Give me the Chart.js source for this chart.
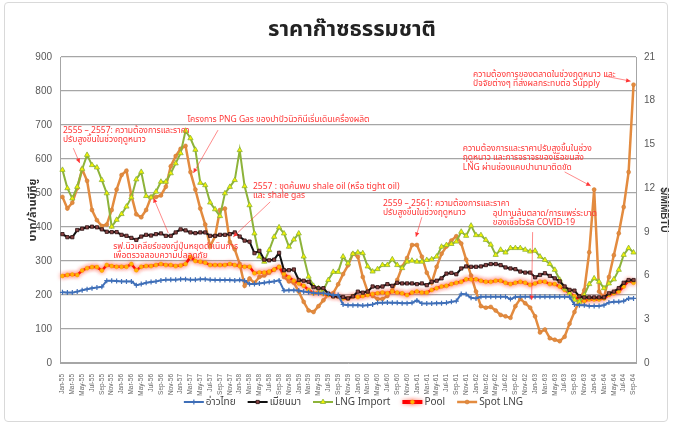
<!DOCTYPE html>
<html>
<head>
<meta charset="utf-8">
<script src="https://cdn.jsdelivr.net/npm/chart.js@4/dist/chart.umd.min.js"></script>
<style>
  html, body { margin: 0; padding: 0; background: #fff; }
  #wrap { position: relative; width: 674px; height: 428px; }
  #frame { position: absolute; left: 4px; top: 2px; width: 662px; height: 418px; border: 1px solid #d9d9d9; border-radius: 4px; }
</style>
</head>
<body>
<div id="wrap">
  <div id="frame"></div>
  <canvas id="gasChart"></canvas>
</div>
<script>
const monthNames = ['Jan','Feb','Mar','Apr','May','Jun','Jul','Aug','Sep','Oct','Nov','Dec'];
const yearLabels = ['55','56','57','58','59','60','61','62','63','64'];
const lastMonthCount = 9; // data ends Sep-64

const labels = [];
yearLabels.forEach((yy, yi) => {
  const n = yi === yearLabels.length - 1 ? lastMonthCount : 12;
  for (let m = 0; m < n; m++) labels.push(monthNames[m] + '-' + yy);
});

const leftTicks = [0, 100, 200, 300, 400, 500, 600, 700, 800, 900];
const rightTicks = [0, 3, 6, 9, 12, 15, 18, 21];

// บาท/ล้านบีทียู
const gulfThai = [208,207,207,210,214,217,220,222,224,242,242,241,240,240,240,229,232,236,238,240,243,245,245,245,246,246,245,245,246,246,
  245,244,244,244,244,243,244,242,232,232,234,236,238,240,243,213,214,214,213,210,208,206,205,205,203,200,200,172,170,
  170,170,169,170,172,177,177,178,177,177,176,176,177,184,175,175,175,176,176,177,180,182,203,202,192,190,195,195,195,
  195,195,195,188,194,195,195,195,195,195,195,195,195,195,195,194,172,170,170,168,168,168,170,178,180,180,182,190,190];

const myanmar = [379,370,370,391,395,399,401,399,393,386,385,385,377,374,368,362,372,377,375,379,381,374,374,384,393,390,384,382,384,384,
  374,374,377,377,379,384,372,360,357,323,330,304,302,304,324,273,273,275,244,242,239,223,220,220,204,196,196,194,190,
  196,210,207,210,225,223,225,232,227,236,234,234,234,232,234,229,239,242,249,263,265,261,278,284,283,283,284,288,291,
  291,288,281,278,276,269,266,266,252,259,264,256,249,240,225,215,213,196,193,193,193,193,193,205,210,220,236,244,244];

const lngImport = [568,514,484,518,570,612,582,575,538,499,401,421,438,460,487,540,562,491,487,504,533,533,558,587,617,683,661,627,530,523,
  472,452,432,499,518,538,626,520,464,381,313,298,332,371,399,381,342,363,381,313,254,227,220,215,244,268,268,313,293,
  321,325,323,284,269,276,288,288,305,288,279,298,301,298,298,303,305,313,342,347,350,357,386,374,404,376,376,362,348,
  318,333,325,338,338,338,333,328,330,313,303,291,274,245,220,205,186,180,200,232,249,239,220,234,246,274,318,338,325];

const pool = [256,259,260,259,272,279,282,282,272,288,285,283,283,283,291,273,283,285,285,288,291,288,288,285,287,291,312,300,298,295,
  288,288,288,288,291,288,285,283,283,264,266,266,269,275,282,262,252,242,234,227,215,205,207,203,200,196,196,190,190,
  196,194,197,200,203,205,207,205,210,207,205,200,207,210,207,207,215,220,225,227,232,236,239,246,246,246,242,239,239,
  242,242,236,232,236,239,236,230,234,239,239,232,232,225,215,206,196,184,182,187,187,187,190,200,205,210,225,242,236];

// $/MMBTU (แกนขวา)
const spotLng = [11.4,10.6,11.0,12.0,13.3,12.5,10.5,9.8,9.4,9.5,10.5,11.9,12.9,13.2,11.5,10.2,10.0,10.5,11.4,11.4,11.5,12.1,13.5,14.2,14.7,14.9,13.1,11.9,10.6,9.5,
  8.0,8.7,10.5,10.6,8.3,7.8,6.8,5.3,5.8,5.5,5.9,6.0,6.2,6.4,6.6,5.9,5.6,5.5,4.9,4.2,3.6,3.5,3.9,4.3,4.7,4.8,5.4,6.1,6.7,
  7.5,7.3,5.9,4.9,4.6,4.4,4.4,4.6,5.0,5.7,6.6,7.2,8.1,8.1,7.3,6.2,5.5,6.6,7.5,8.0,8.4,8.7,8.2,7.1,6.0,4.9,3.9,3.8,3.85,
  3.6,3.3,3.2,3.1,3.9,4.4,4.1,3.8,3.2,2.1,2.3,1.7,1.6,1.5,1.8,2.7,3.5,4.3,5.0,7.6,11.9,4.9,4.5,5.9,7.4,8.9,10.7,13.1,19.1];

const thaiFont = '"Noto Sans Thai", "Noto Sans Thai UI", Tahoma, "Leelawadee UI", "Noto Sans", "DejaVu Sans", sans-serif';
const noteRed = '#ff3535';

// annotation: text anchor (category index, left-axis value), arrow from/to in same space
const notes = [
  { lines: ['2555 – 2557: ความต้องการและราคา', 'ปรับสูงขึ้นในช่วงฤดูหนาว'], at: [0.1, 682], from: [2.2, 632], to: [3.5, 588] },
  { lines: ['โครงการ PNG Gas ของปาปัวนิวกินีเริ่มเดินเครื่องผลิต'], at: [25.4, 715], from: [31.6, 685], to: [26.6, 559] },
  { lines: ['2557 : ขุดค้นพบ shale oil (หรือ tight oil)', 'และ shale gas'], at: [38.7, 518], from: [42.2, 474], to: [34.7, 371] },
  { lines: ['รฟ.นิวเคลียร์ของญี่ปุ่นหยุดดำเนินการ', 'เพื่อตรวจสอบความปลอดภัย'], at: [10.3, 341], from: [21.5, 382], to: [18.5, 485] },
  { lines: ['2559 – 2561: ความต้องการและราคา', 'ปรับสูงขึ้นในช่วงฤดูหนาว'], at: [65.1, 468], from: [73, 429], to: [71.8, 371] },
  { lines: ['ความต้องการและราคาปรับสูงขึ้นในช่วง', 'ฤดูหนาว และการจราจรของเรือขนส่ง', 'LNG ผ่านช่องแคบปานามาติดขัด'], at: [81.3, 629], from: [102, 562], to: [107.3, 521] },
  { lines: ['อุปทานล้นตลาด/การแพร่ระบาด', 'ของเชื้อไวรัส COVID-19'], at: [87.4, 438], from: [95.5, 385], to: [95.3, 185] },
  { lines: ['ความต้องการของตลาดในช่วงฤดูหนาว และ', 'ปัจจัยต่างๆ ที่ส่งผลกระทบต่อ Supply'], at: [83.4, 847], from: [110.1, 844], to: [115.4, 829] },
];

const glowPlugin = {
  id: 'poolGlow',
  beforeDatasetDraw(chart, args) {
    if (args.index === 3) {
      const c = chart.ctx;
      c.save();
      c.shadowColor = 'rgba(255,90,70,0.7)';
      c.shadowBlur = 4;
    }
  },
  afterDatasetDraw(chart, args) {
    if (args.index === 3) chart.ctx.restore();
  }
};

function drawArrow(ctx, x1, y1, x2, y2) {
  ctx.beginPath();
  ctx.moveTo(x1, y1);
  ctx.lineTo(x2, y2);
  ctx.stroke();
  const a = Math.atan2(y2 - y1, x2 - x1);
  const s = 5;
  ctx.beginPath();
  ctx.moveTo(x2, y2);
  ctx.lineTo(x2 - s * Math.cos(a - 0.45), y2 - s * Math.sin(a - 0.45));
  ctx.lineTo(x2 - s * Math.cos(a + 0.45), y2 - s * Math.sin(a + 0.45));
  ctx.closePath();
  ctx.fill();
}

const notesPlugin = {
  id: 'notes',
  afterDatasetsDraw(chart) {
    const ctx = chart.ctx;
    const xs = chart.scales.x, ys = chart.scales.y;
    ctx.save();
    ctx.fillStyle = noteRed;
    ctx.strokeStyle = 'rgba(255,60,60,0.75)';
    ctx.lineWidth = 0.8;
    ctx.font = '8.5px ' + thaiFont;
    ctx.textBaseline = 'middle';
    ctx.textAlign = 'left';
    notes.forEach(n => {
      const x = xs.getPixelForValue(n.at[0]);
      const y = ys.getPixelForValue(n.at[1]);
      n.lines.forEach((t, k) => ctx.fillText(t, x, y + k * 9.5));
      drawArrow(ctx, xs.getPixelForValue(n.from[0]), ys.getPixelForValue(n.from[1]),
        xs.getPixelForValue(n.to[0]), ys.getPixelForValue(n.to[1]));
    });
    ctx.restore();
  }
};

const frameTextPlugin = {
  id: 'frameText',
  afterDraw(chart) {
    const ctx = chart.ctx;
    const area = chart.chartArea;
    const cx = (area.left + area.right) / 2;
    ctx.save();
    // title
    ctx.fillStyle = '#222';
    ctx.font = 'bold 22px ' + thaiFont;
    ctx.textAlign = 'center';
    ctx.textBaseline = 'middle';
    ctx.fillText('ราคาก๊าซธรรมชาติ', cx + 4, 32);
    // legend
    ctx.font = '10px ' + thaiFont;
    ctx.textAlign = 'left';
    const sets = chart.data.datasets;
    const lineW = 20, gap = 11;
    const widths = sets.map(d => lineW + 3 + ctx.measureText(d.label).width);
    const total = widths.reduce((a, b) => a + b, 0) + gap * (sets.length - 1);
    let x = cx + 6 - total / 2;
    const y = 402;
    sets.forEach((d, i) => {
      ctx.save();
      if (i === 3) { ctx.shadowColor = 'rgba(255,90,70,0.7)'; ctx.shadowBlur = 4; }
      ctx.strokeStyle = d.borderColor;
      ctx.lineWidth = i === 3 ? 4 : d.borderWidth;
      ctx.beginPath();
      ctx.moveTo(x, y);
      ctx.lineTo(x + lineW, y);
      ctx.stroke();
      ctx.fillStyle = d.pointBackgroundColor;
      ctx.strokeStyle = d.pointBorderColor;
      ctx.lineWidth = d.pointBorderWidth;
      Chart.helpers.drawPoint(ctx, { pointStyle: d.pointStyle, radius: d.pointRadius, rotation: 0, borderWidth: d.pointBorderWidth }, x + lineW / 2, y);
      ctx.restore();
      ctx.fillStyle = '#444';
      ctx.fillText(d.label, x + lineW + 2, y + 0.5);
      x += widths[i] + gap;
    });
    ctx.restore();
  }
};

new Chart(document.getElementById('gasChart'), {
  type: 'line',
  data: {
    labels: labels,
    datasets: [
      { label: 'อ่าวไทย', data: gulfThai, yAxisID: 'y', borderColor: '#3f6fb8', borderWidth: 2,
        pointStyle: 'cross', pointRadius: 2.5, pointBorderWidth: 1.2, pointBackgroundColor: '#3f6fb8', pointBorderColor: '#3f6fb8' },
      { label: 'เมียนมา', data: myanmar, yAxisID: 'y', borderColor: '#111111', borderWidth: 2,
        pointStyle: 'rect', pointRadius: 2.3, pointBorderWidth: 0.8, pointBackgroundColor: '#8c4545', pointBorderColor: '#2a1010' },
      { label: 'LNG Import', data: lngImport, yAxisID: 'y', borderColor: '#8db33a', borderWidth: 2,
        pointStyle: 'triangle', pointRadius: 3, pointBorderWidth: 0.8, pointBackgroundColor: '#f4f400', pointBorderColor: '#8db33a' },
      { label: 'Pool', data: pool, yAxisID: 'y', borderColor: '#ff0000', borderWidth: 2.5,
        pointStyle: 'circle', pointRadius: 2, pointBorderWidth: 0.5, pointBackgroundColor: '#ffc000', pointBorderColor: '#ff9900' },
      { label: 'Spot LNG', data: spotLng, yAxisID: 'y1', borderColor: '#e38b3f', borderWidth: 2.5,
        pointStyle: 'circle', pointRadius: 2, pointBorderWidth: 0.5, pointBackgroundColor: '#e38b3f', pointBorderColor: '#d07a30' },
    ]
  },
  options: {
    responsive: true,
    maintainAspectRatio: false,
    animation: false,
    events: [],
    elements: { line: { tension: 0 } },
    layout: { padding: { top: 57, left: 27, right: 4, bottom: 0 } },
    plugins: { legend: { display: false }, title: { display: false }, tooltip: { enabled: false } },
    scales: {
      x: {
        offset: true,
        grid: { display: false },
        border: { color: '#a6a6a6' },
        ticks: {
          autoSkip: false, maxRotation: 90, minRotation: 90, padding: 3,
          color: '#666', font: { size: 6.5, family: 'Liberation Sans, Arial, sans-serif' },
          callback: (v, i) => (i % 2 === 0 ? labels[i] : '')
        },
        afterFit: s => { s.height = 65; }
      },
      y: {
        position: 'left', min: 0, max: 900,
        afterBuildTicks: s => { s.ticks = leftTicks.map(v => ({ value: v })); },
        grid: { color: '#a6a6a6', lineWidth: 1.2, drawTicks: false },
        border: { display: true, color: '#a6a6a6' },
        ticks: { padding: 8, color: '#595959', font: { size: 10, family: 'Liberation Sans, Arial, sans-serif' } },
        title: { display: true, text: 'บาท/ล้านบีทียู', color: '#333', font: { size: 11, weight: 'bold', family: thaiFont }, padding: 0 },
        afterFit: s => { s.width = 33; }
      },
      y1: {
        position: 'right', min: 0, max: 21,
        afterBuildTicks: s => { s.ticks = rightTicks.map(v => ({ value: v })); },
        grid: { display: false, drawTicks: false },
        border: { display: true, color: '#a6a6a6' },
        ticks: { padding: 8, color: '#595959', font: { size: 10, family: 'Liberation Sans, Arial, sans-serif' } },
        title: { display: true, text: '$/MMBTU', color: '#333', font: { size: 10, weight: 'bold', family: 'Liberation Sans, Arial, sans-serif' }, padding: 0 },
        afterFit: s => { s.width = 34; }
      }
    }
  },
  plugins: [glowPlugin, notesPlugin, frameTextPlugin]
});
</script>
</body>
</html>
